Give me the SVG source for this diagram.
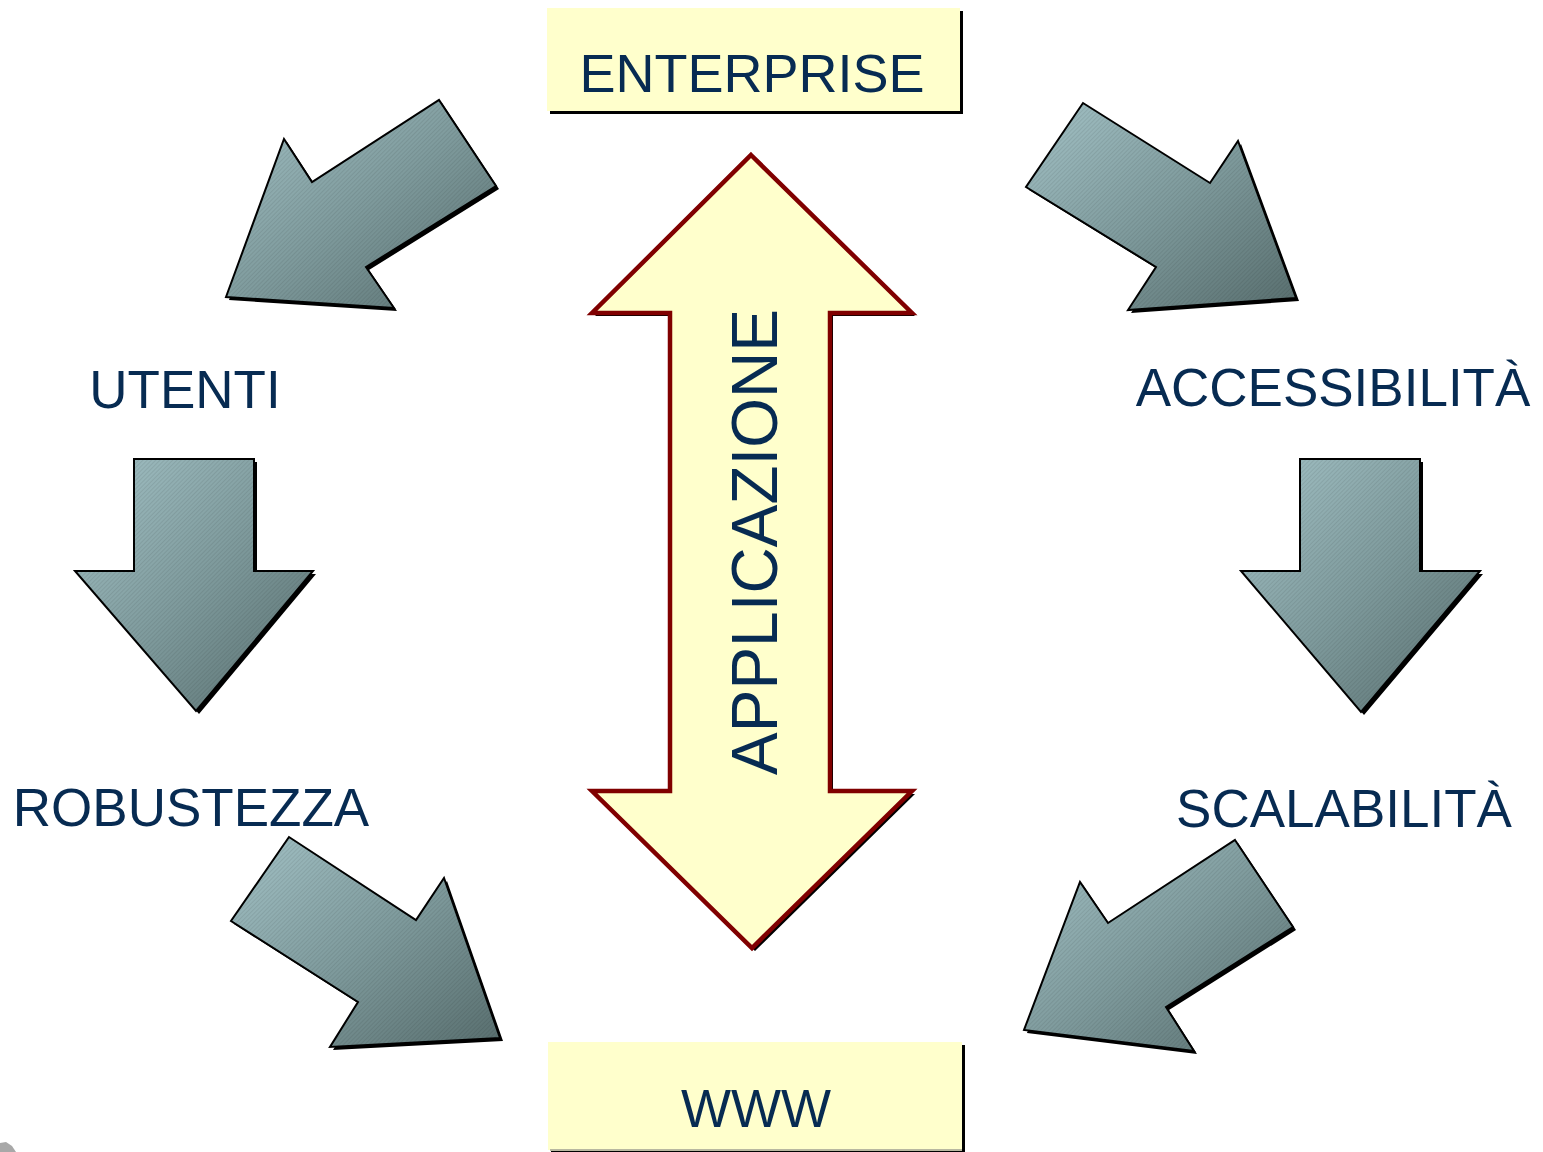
<svg xmlns="http://www.w3.org/2000/svg" width="1543" height="1152" viewBox="0 0 1543 1152">
<style>
.lbl{font-family:"Liberation Sans",Arial,sans-serif;fill:#072b52;text-anchor:middle}
.shadow{fill:#000}
.arr{fill:url(#grad);stroke:#000;stroke-width:2;stroke-linejoin:miter}
.hatch{fill:url(#hatch);stroke:none}
.box{fill:#ffffcc}
.dbl{fill:#ffffcc;stroke:#800000;stroke-width:4.5;stroke-linejoin:miter}
</style>
<defs>
<linearGradient id="grad" x1="0" y1="0" x2="1" y2="1">
<stop offset="0" stop-color="#a3c2c6"/>
<stop offset="0.5" stop-color="#7f9b9d"/>
<stop offset="1" stop-color="#586e6e"/>
</linearGradient>
<pattern id="hatch" width="3" height="3" patternUnits="userSpaceOnUse" patternTransform="rotate(-45)">
<rect width="3" height="1" fill="#000" fill-opacity="0.08"/>
</pattern>
</defs>

<g id="connectors">
<g id="arrow-utenti">
<polygon class="shadow" points="229,300 287,142 315,185 442,103 499,189 369,270 397,311"/>
<polygon class="arr" points="226,297 284,139 312,182 439,100 496,186 366,267 394,308"/>
<polygon class="hatch" points="226,297 284,139 312,182 439,100 496,186 366,267 394,308"/>
</g>
<g id="arrow-accessibilita">
<polygon class="shadow" points="1299,301 1241,144 1213,186 1086,106 1029,190 1159,270 1131,313"/>
<polygon class="arr" points="1296,298 1238,141 1210,183 1083,103 1026,187 1156,267 1128,310"/>
<polygon class="hatch" points="1296,298 1238,141 1210,183 1083,103 1026,187 1156,267 1128,310"/>
</g>
<g id="arrow-utenti-robustezza">
<polygon class="shadow" points="137,462 257,462 257,574 316,574 199,714 78,574 137,574"/>
<polygon class="arr" points="134,459 254,459 254,571 313,571 196,711 75,571 134,571"/>
<polygon class="hatch" points="134,459 254,459 254,571 313,571 196,711 75,571 134,571"/>
</g>
<g id="arrow-accessibilita-scalabilita">
<polygon class="shadow" points="1303,462 1423,462 1423,574 1483,574 1364,715 1244,574 1303,574"/>
<polygon class="arr" points="1300,459 1420,459 1420,571 1480,571 1361,712 1241,571 1300,571"/>
<polygon class="hatch" points="1300,459 1420,459 1420,571 1480,571 1361,712 1241,571 1300,571"/>
</g>
<g id="arrow-robustezza">
<polygon class="shadow" points="292,840 234,924 361,1005 333,1050 503,1041 447,881 419,923"/>
<polygon class="arr" points="289,837 231,921 358,1002 330,1047 500,1038 444,878 416,920"/>
<polygon class="hatch" points="289,837 231,921 358,1002 330,1047 500,1038 444,878 416,920"/>
</g>
<g id="arrow-scalabilita">
<polygon class="shadow" points="1238,843 1296,930 1169,1010 1197,1054 1027,1033 1083,885 1111,926"/>
<polygon class="arr" points="1235,840 1293,927 1166,1007 1194,1051 1024,1030 1080,882 1108,923"/>
<polygon class="hatch" points="1235,840 1293,927 1166,1007 1194,1051 1024,1030 1080,882 1108,923"/>
</g>
</g>

<g id="node-enterprise">
<rect class="shadow" x="550" y="11" width="413" height="103"/>
<rect class="box" x="547" y="8" width="413" height="103"/>
<text class="lbl" x="752" y="92" font-size="54">ENTERPRISE</text>
</g>

<g id="node-applicazione">
<polygon class="shadow" points="754,158 915,316 833,316 833,794 915,794 755,951 595,794 673,794 673,316 595,316"/>
<polygon class="dbl" points="751,155 912,313 830,313 830,791 912,791 752,948 592,791 670,791 670,313 592,313"/>
<text class="lbl" transform="translate(777,542) rotate(-90)" font-size="64">APPLICAZIONE</text>
</g>

<g id="node-www">
<rect x="551" y="1045" width="414" height="110" fill="#000"/>
<rect class="box" x="548" y="1042" width="414" height="108"/>
<rect x="550" y="1149" width="412" height="2" fill="#b8b8a0"/>
<text class="lbl" x="756" y="1127" font-size="53">WWW</text>
</g>

<g id="node-utenti"><text class="lbl" x="185" y="408" font-size="53">UTENTI</text></g>
<g id="node-accessibilita"><text class="lbl" x="1333" y="406" font-size="53">ACCESSIBILITÀ</text></g>
<g id="node-robustezza"><text class="lbl" x="191" y="826" font-size="53">ROBUSTEZZA</text></g>
<g id="node-scalabilita"><text class="lbl" x="1344" y="827" font-size="53">SCALABILITÀ</text></g>

<path d="M0,1143 L6,1142 L12,1146 L16,1152 L0,1152 Z" fill="#a8a8a8"/>
</svg>
